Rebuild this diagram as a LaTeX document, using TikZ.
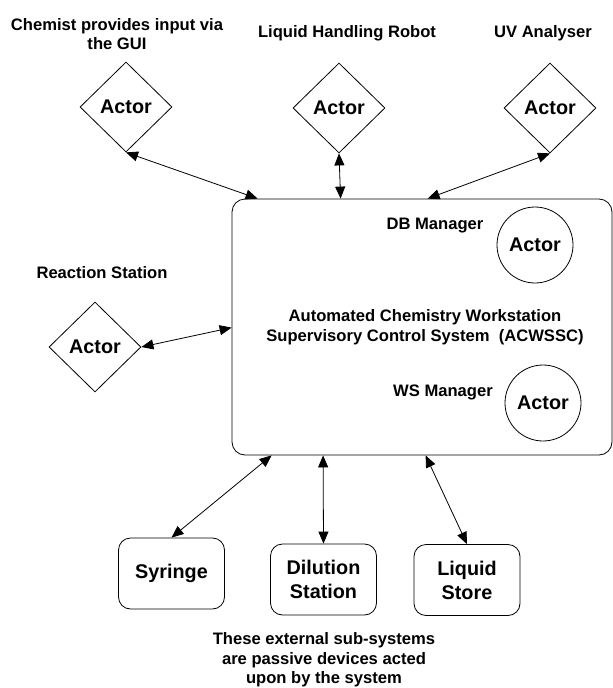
\documentclass[tikz,border=0pt]{standalone}
\usepackage{fontspec}
\setmainfont{Liberation Sans}
\usetikzlibrary{shapes.geometric,arrows.meta,calc}
\begin{document}
\begin{tikzpicture}[x=1pt,y=-1pt,
  lbl/.style={font=\fontsize{16.6}{19.5}\selectfont\bfseries, align=center, inner sep=0pt},
  act/.style={font=\fontsize{19.8}{24}\selectfont\bfseries},
  actorD/.style={draw, diamond, inner sep=0pt, minimum width=92pt, minimum height=90pt, line width=0.8pt, act},
  actorC/.style={draw, circle, inner sep=0pt, minimum size=76pt, line width=0.8pt, act},
  subsys/.style={draw, rounded corners=12pt, minimum width=106pt, minimum height=71pt, line width=0.8pt, align=center, inner sep=0pt, act},
  link/.style={line width=0.8pt, {Triangle[length=12pt,width=10pt]}-{Triangle[length=12pt,width=10pt]}}
]
\useasboundingbox (0,0) rectangle (613,688);

% main system box
\node[draw, rounded corners=13pt, minimum width=380pt, minimum height=256pt, line width=0.8pt] (box) at (422,327) {};
\node[lbl] (sysname) at (425,327) {Automated Chemistry Workstation\\Supervisory Control System\ \ (ACWSSC)};
\node[lbl] (dbl) at (435,226) {DB Manager};
\node[actorC] (db) at (535,245) {Actor};
\node[lbl] (wsl) at (443,392) {WS Manager};
\node[actorC] (ws) at (543,403) {Actor};

% external actors
\node[lbl] (l1) at (117,34) {Chemist provides input via\\the GUI};
\node[actorD] (d1) at (126,107) {Actor};
\node[lbl] (l2) at (347,33) {Liquid Handling Robot};
\node[actorD] (d2) at (339,108) {Actor};
\node[lbl] (l3) at (543,33) {UV Analyser};
\node[actorD] (d3) at (550,108) {Actor};
\node[lbl] (l4) at (102,273) {Reaction Station};
\node[actorD] (d4) at (95,347) {Actor};

% passive sub-systems
\node[subsys] (syr) at (171.5,573.5) {Syringe};
\node[subsys] (dil) at (323.5,579.5) {Dilution\\Station};
\node[subsys] (liq) at (467,580) {Liquid\\Store};
\node[lbl] (note) at (324,660) {These external sub-systems\\are passive devices acted\\upon by the system};

% connectors
\draw[link] (d1.south) -- ($(box.north west)+(26,0)$);
\draw[link] (d2.south) -- ($(box.north west)+(109,0)$);
\draw[link] (d3.south) -- ($(box.north west)+(196,0)$);
\draw[link] (d4.east) -- ($(box.north west)+(0,129)$);
\draw[link] (syr.north) -- ($(box.south west)+(40,0)$);
\draw[link] (dil.north) -- ($(box.south west)+(91.5,0)$);
\draw[link] (liq.north) -- ($(box.south west)+(194,0)$);
\end{tikzpicture}
\end{document}
